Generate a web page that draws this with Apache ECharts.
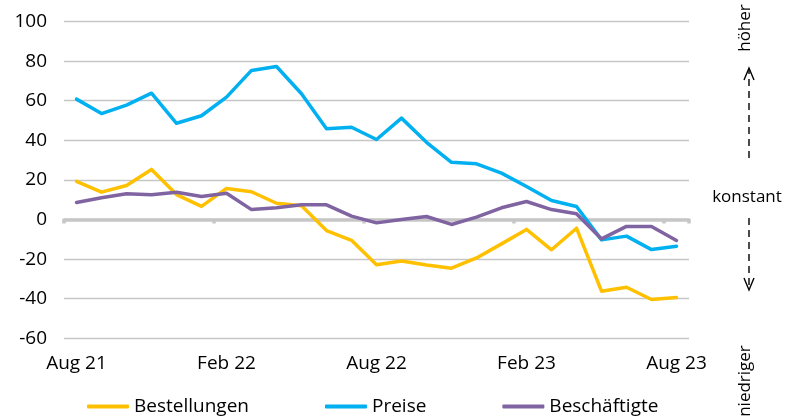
<!DOCTYPE html>
<html>
<head>
<meta charset="utf-8">
<script src="https://cdn.jsdelivr.net/npm/echarts@6/dist/echarts.min.js"></script>
<style>
  html, body { margin: 0; padding: 0; background: #fff; }
  #chart { width: 787px; height: 416px; }
</style>
</head>
<body>
<div id="chart"></div>
<script>
// Monthly survey balances, Aug 2021 – Aug 2023
const months = [
  'Aug 21', 'Sep 21', 'Okt 21', 'Nov 21', 'Dez 21', 'Jan 22',
  'Feb 22', 'Mär 22', 'Apr 22', 'Mai 22', 'Jun 22', 'Jul 22',
  'Aug 22', 'Sep 22', 'Okt 22', 'Nov 22', 'Dez 22', 'Jan 23',
  'Feb 23', 'Mär 23', 'Apr 23', 'Mai 23', 'Jun 23', 'Jul 23', 'Aug 23'
];
const bestellungen = [19.3, 13.8, 17.2, 25.3, 12.6, 6.6, 15.7, 14, 8.2, 6.9, -5.6, -10.5,
  -22.9, -21, -23, -24.6, -19.4, -12.3, -5, -15.3, -4.4, -36.2, -34.2, -40.4, -39.4];
const preise = [60.8, 53.5, 57.8, 63.8, 48.6, 52.4, 61.8, 75.3, 77.3, 63.5, 45.8, 46.6,
  40.4, 51.2, 39, 28.9, 28.1, 23.4, 16.7, 9.6, 6.6, -10.3, -8.4, -15.2, -13.5];
const beschaeftigte = [8.6, 11, 13, 12.5, 13.8, 11.6, 13.3, 5, 5.9, 7.4, 7.4, 1.7,
  -1.7, 0, 1.5, -2.5, 1.2, 5.9, 9.1, 5, 2.9, -9.8, -3.5, -3.5, -10.6];
const yTicks = { min: -60, max: 100, step: 20 };

const FONT = '"Open Sans", "Noto Sans", sans-serif';
const GRID_GREY = '#C6C6C6';

const CHART_H = 416;
const GRID = { left: 64, right: 98, top: 21.5, bottom: 77.7 };
// the second category axis is shifted up so that it sits on the value 0
const plotH = CHART_H - GRID.top - GRID.bottom;
const zeroOffset = -(0 - yTicks.min) / (yTicks.max - yTicks.min) * plotH;

function lineSeries(name, data, color) {
  return {
    name, type: 'line', data, xAxisIndex: 0,
    symbol: 'none', smooth: false,
    lineStyle: { color, width: 3.5, join: 'round', cap: 'round' },
    itemStyle: { color },
    z: 3
  };
}

const chart = echarts.init(document.getElementById('chart'), null, { renderer: 'canvas' });

const arrowX = 749;
chart.setOption({
  animation: false,
  textStyle: { fontFamily: FONT },
  grid: Object.assign({ containLabel: false }, GRID),
  legend: {
    left: 82, top: 392,
    icon: 'roundRect', itemWidth: 42, itemHeight: 4, itemGap: 76,
    textStyle: { fontFamily: FONT, fontSize: 19, color: '#000' },
    data: ['Bestellungen', 'Preise', 'Beschäftigte']
  },
  xAxis: [
    {
      type: 'category', data: months, boundaryGap: true, position: 'bottom',
      axisLine: { show: false }, axisTick: { show: false }, splitLine: { show: false },
      axisLabel: { interval: 5, color: '#000', fontSize: 19, fontFamily: FONT, margin: 16 }
    },
    {
      type: 'category', data: months, boundaryGap: true, position: 'bottom',
      offset: zeroOffset, splitLine: { show: false },
      axisLine: { show: true, onZero: false, lineStyle: { color: GRID_GREY, width: 3.5 } },
      axisTick: { show: true, interval: 5, length: 4, lineStyle: { color: GRID_GREY, width: 3.5 } },
      axisLabel: { show: false },
      z: 2
    }
  ],
  yAxis: {
    type: 'value', min: yTicks.min, max: yTicks.max, interval: yTicks.step,
    axisLine: { show: false }, axisTick: { show: false },
    axisLabel: { color: '#000', fontSize: 19, fontFamily: FONT, margin: 17 },
    splitLine: { lineStyle: { color: GRID_GREY, width: 1.3 } }
  },
  series: [
    lineSeries('Bestellungen', bestellungen, '#FFC000'),
    lineSeries('Preise', preise, '#00B0F0'),
    lineSeries('Beschäftigte', beschaeftigte, '#8064A2')
  ],
  graphic: [
    { type: 'text', x: 745, y: 28, rotation: Math.PI / 2,
      style: { text: 'höher', font: '17px ' + FONT, fill: '#000', align: 'center', verticalAlign: 'middle' } },
    { type: 'line', shape: { x1: arrowX, y1: 158, x2: arrowX, y2: 70 },
      style: { stroke: '#000', lineWidth: 1.4, lineDash: [7, 5] } },
    { type: 'polyline', shape: { points: [[arrowX - 5, 80], [arrowX, 68], [arrowX + 5, 80]] },
      style: { stroke: '#000', lineWidth: 1.4, fill: null } },
    { type: 'text', x: 747, y: 197,
      style: { text: 'konstant', font: '17px ' + FONT, fill: '#000', align: 'center', verticalAlign: 'middle' } },
    { type: 'line', shape: { x1: arrowX, y1: 218, x2: arrowX, y2: 288 },
      style: { stroke: '#000', lineWidth: 1.4, lineDash: [7, 5] } },
    { type: 'polyline', shape: { points: [[arrowX - 5, 278], [arrowX, 290], [arrowX + 5, 278]] },
      style: { stroke: '#000', lineWidth: 1.4, fill: null } },
    { type: 'text', x: 745, y: 381, rotation: Math.PI / 2,
      style: { text: 'niedriger', font: '17px ' + FONT, fill: '#000', align: 'center', verticalAlign: 'middle' } }
  ]
});
</script>
</body>
</html>
